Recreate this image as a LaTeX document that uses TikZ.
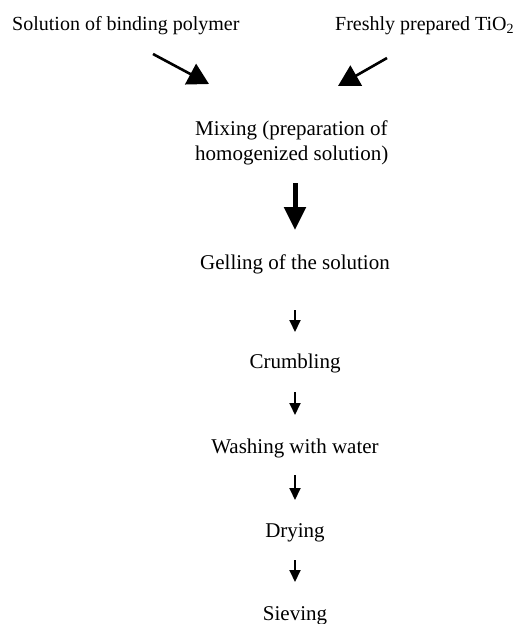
\documentclass[tikz,border=0pt]{standalone}
\usepackage{fontspec}
\setmainfont{Liberation Serif}
\usetikzlibrary{arrows.meta}

\tikzset{
  toptext/.style={inner sep=0pt, font=\fontsize{20}{24}\selectfont},
  steptext/.style={inner sep=0pt, font=\fontsize{21}{25}\selectfont},
  diagarrow/.style={line width=2.6pt, -{Triangle[length=21pt, width=23pt]}},
  bigarrow/.style={line width=5pt, -{Triangle[length=23pt, width=21pt]}},
  smallarrow/.style={line width=1.9pt, -{Triangle[length=12pt, width=11pt]}}
}

\begin{document}
\begin{tikzpicture}[x=1pt, y=-1pt]

\useasboundingbox (0,0) rectangle (531,624);

% =====================================================
% Starting materials
% =====================================================
\node[toptext, anchor=base west] (sol) at (12,30) {Solution of binding polymer};
\node[toptext, anchor=base west] (tio) at (335,30) {Freshly prepared TiO\textsubscript{2}};

% free ends of the two slanted arrows
\coordinate (solout) at (153,54);
\coordinate (mixinl) at (209,84);
\coordinate (tioout) at (387,58);
\coordinate (mixinr) at (338,86);

\draw[diagarrow] (solout) -- (mixinl);
\draw[diagarrow] (tioout) -- (mixinr);

% =====================================================
% Process steps
% =====================================================
\node[steptext, align=left, anchor=base west] (mix) at (195,160)
  {Mixing (preparation of\\homogenized solution)};
\node[steptext, anchor=base] (gel) at (295,269) {Gelling of the solution};
\node[steptext, anchor=base] (crm) at (295,368) {Crumbling};
\node[steptext, anchor=base] (wsh) at (295,453) {Washing with water};
\node[steptext, anchor=base] (dry) at (295,537) {Drying};
\node[steptext, anchor=base] (sve) at (295,620) {Sieving};

% Arrows between steps
\draw[bigarrow, shorten <=23pt, shorten >=39pt] (mix.base -| gel.base) -- (gel.base);
\draw[smallarrow, shorten <=41pt, shorten >=36pt] (gel.base) -- (crm.base);
\draw[smallarrow, shorten <=24pt, shorten >=38pt] (crm.base) -- (wsh.base);
\draw[smallarrow, shorten <=22pt, shorten >=37pt] (wsh.base) -- (dry.base);
\draw[smallarrow, shorten <=23pt, shorten >=38pt] (dry.base) -- (sve.base);

\end{tikzpicture}
\end{document}
